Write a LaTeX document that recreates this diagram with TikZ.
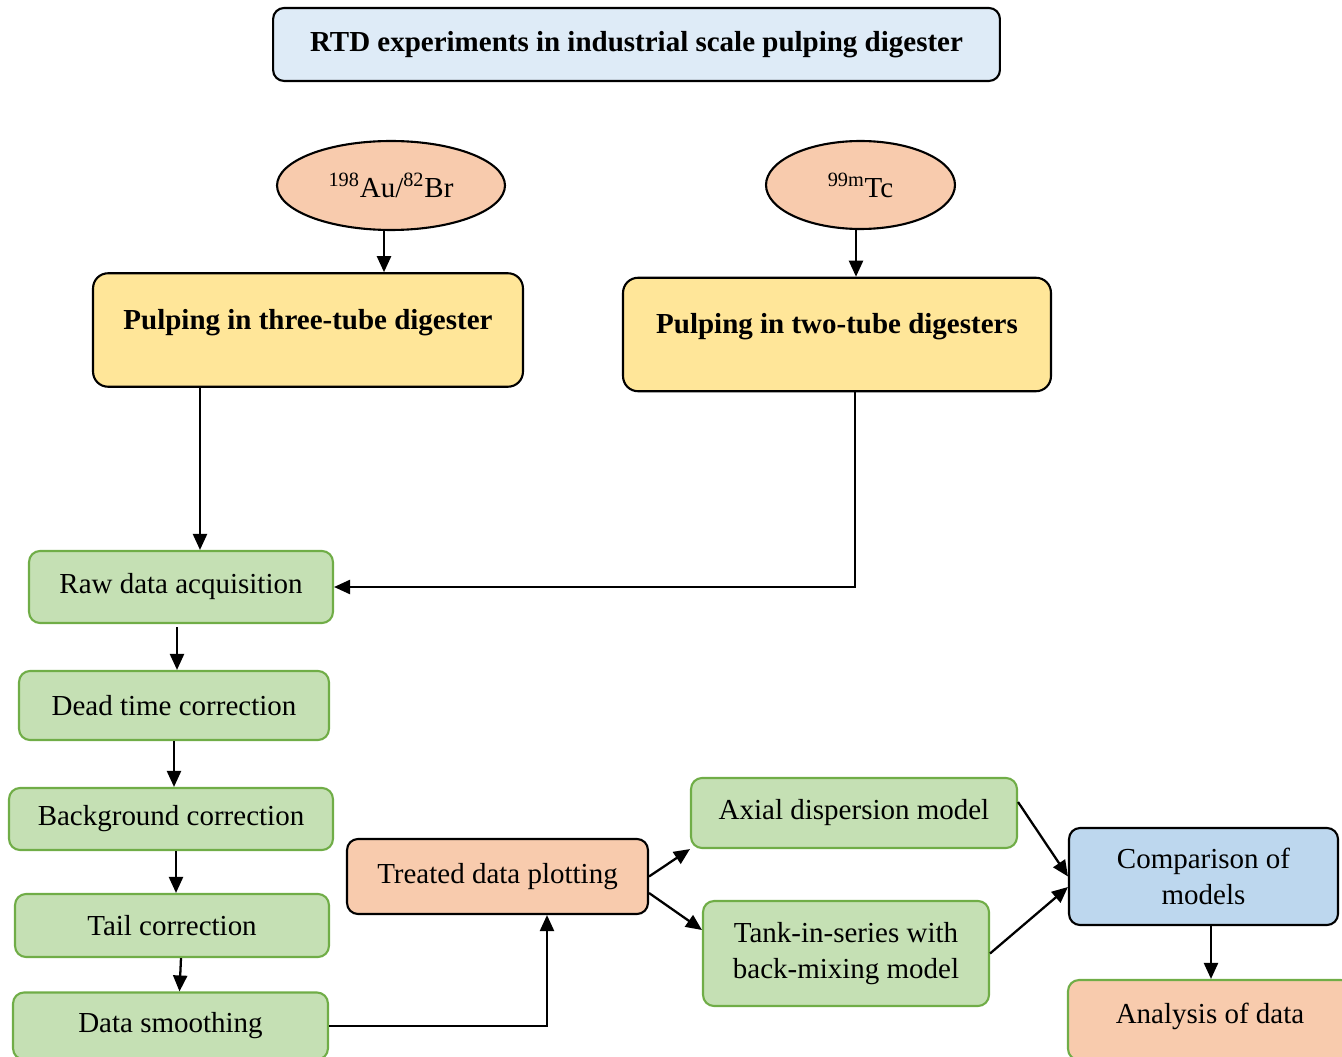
\documentclass[tikz,border=0pt]{standalone}
\usepackage{fontspec}
\setmainfont{Liberation Serif}
\usepackage{xcolor}
\usepackage{tikz}
\usetikzlibrary{shapes, arrows.meta}

\definecolor{headfill}{HTML}{DEEBF7}
\definecolor{tracerfill}{HTML}{F8CBAD}
\definecolor{digfill}{HTML}{FFE699}
\definecolor{stepfill}{HTML}{C5E0B4}
\definecolor{stepedge}{HTML}{70AD47}
\definecolor{compfill}{HTML}{BDD7EE}

\begin{document}
\begin{tikzpicture}[x=0.02cm, y=-0.02cm, font=\fontsize{16.5}{20.5}\selectfont,
			>={Triangle[length=0.32cm, width=0.28cm]},
			headbox/.style={draw, line width=1.2pt, rounded corners=0.22cm, fill=headfill, minimum width=14.54cm, minimum height=1.46cm, font=\fontsize{16.5}{19.5}\selectfont\bfseries},
			tracer/.style={draw, ellipse, line width=1.2pt, fill=tracerfill, inner sep=0pt},
			digester/.style={draw, line width=1.2pt, rounded corners=0.3cm, fill=digfill, minimum width=8.6cm, minimum height=2.27cm, text depth=0.43cm, font=\fontsize{16.5}{19.5}\selectfont\bfseries},
			stepbox/.style={draw=stepedge, line width=1.2pt, rounded corners=0.22cm, fill=stepfill},
			plotbox/.style={draw, line width=1.2pt, rounded corners=0.22cm, fill=tracerfill},
			flow/.style={line width=1.3pt, black, ->}
			]
			\useasboundingbox (0,0) rectangle (1342,1057);
			\node [headbox](head) at (636.5,44.5) {RTD experiments in industrial scale pulping digester};
			\node [tracer, minimum width=4.56cm, minimum height=1.78cm](au) at (391,185.5) {\textsuperscript{198}Au/\textsuperscript{82}Br};
			\node [tracer, minimum width=3.78cm, minimum height=1.76cm](tc) at (860.5,185) {\textsuperscript{99m}Tc};
			\node [digester](three) at (308,330) {Pulping in three-tube digester};
			\node [digester, minimum width=8.56cm](two) at (837,334.5) {Pulping in two-tube digesters};
			\node [stepbox, minimum width=6.08cm, minimum height=1.44cm](raw) at (181,587) {Raw data acquisition};
			\node [stepbox, minimum width=6.2cm, minimum height=1.38cm](dead) at (174,705.5) {Dead time correction};
			\node [stepbox, minimum width=6.48cm, minimum height=1.24cm](bg) at (171,819) {Background correction};
			\node [stepbox, minimum width=6.28cm, minimum height=1.26cm](tail) at (172,925.5) {Tail correction};
			\node [stepbox, minimum width=6.3cm, minimum height=1.34cm](smooth) at (170.5,1026) {Data smoothing};
			\node [plotbox, minimum width=6.02cm, minimum height=1.5cm](treated) at (497.5,876.5) {Treated data plotting};
			\node [stepbox, minimum width=6.52cm, minimum height=1.4cm](axial) at (854,813) {Axial dispersion model};
			\node [stepbox, minimum width=5.72cm, minimum height=2.1cm, align=center](tank) at (846,953.5) {Tank-in-series with\\back-mixing model};
			\node [plotbox, fill=compfill, minimum width=5.38cm, minimum height=1.94cm, align=center](comp) at (1203.5,876.5) {Comparison of\\models};
			\node [stepbox, fill=tracerfill, minimum width=5.68cm, minimum height=1.6cm, text depth=0.28cm](analysis) at (1210,1020) {Analysis of data};
			% connectors
			\coordinate (auout) at ([xshift=-0.14cm]au.south);
			\coordinate (tcout) at ([xshift=-0.09cm]tc.south);
			\coordinate (rawin) at ([xshift=0.38cm]raw.north);
			\coordinate (rawout) at ([xshift=-0.08cm, yshift=-0.06cm]raw.south);
			\coordinate (twoout) at ([xshift=0.36cm]two.south);
			\coordinate (plotin) at ([xshift=0.99cm]treated.south);
			\draw[flow] (auout) -- (auout |- three.north);
			\draw[flow] (tcout) -- (tcout |- two.north);
			\draw[flow] (three.south -| rawin) -- (rawin);
			\draw[flow] (twoout) |- (raw.east);
			\draw[flow] (rawout) -- (rawout |- dead.north);
			\draw[flow] (dead.south) -- (dead.south |- bg.north);
			\draw[flow] ([xshift=0.1cm]bg.south) -- ([xshift=0.1cm]bg.south |- tail.north);
			\draw[flow] ([xshift=0.18cm]tail.south) -- ([xshift=0.18cm]smooth.north);
			\draw[flow] (smooth.east) -| (plotin);
			\draw[flow] (treated.east) -- (axial.south west);
			\draw[flow] ([yshift=-0.33cm]treated.east) -- ([yshift=0.47cm]tank.west);
			\draw[flow] ([yshift=0.22cm]axial.east) -- (comp.west);
			\draw[flow] (tank.east) -- ([yshift=-0.21cm]comp.west);
			\draw[flow] ([xshift=0.15cm]comp.south) -- ([xshift=0.15cm]comp.south |- analysis.north);
		\end{tikzpicture}
\end{document}
